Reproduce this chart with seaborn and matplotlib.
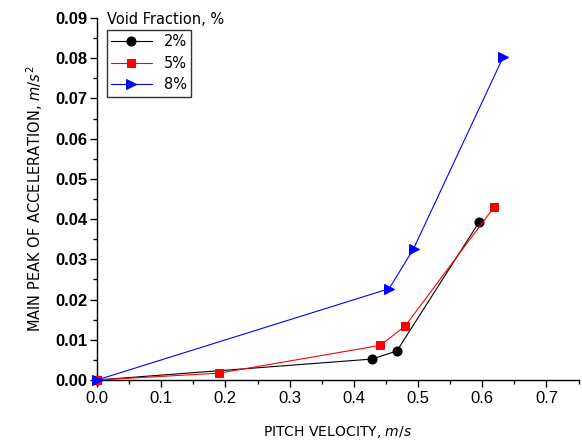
import matplotlib
matplotlib.use("Agg")
import matplotlib.pyplot as plt
import seaborn as sns
import pandas as pd
from matplotlib.ticker import MultipleLocator, FormatStrFormatter

sns.set_style("ticks")
plt.rcParams['font.family'] = ['DejaVu Sans']
plt.rcParams['mathtext.fontset'] = 'dejavusans'
plt.rcParams['text.color'] = 'black'
plt.rcParams['axes.labelcolor'] = 'black'
plt.rcParams['xtick.color'] = 'black'
plt.rcParams['ytick.color'] = 'black'

# Data
x_2 = [0.0, 0.428, 0.467, 0.595]
y_2 = [0.0, 0.0052, 0.0072, 0.0392]
x_5 = [0.0, 0.190, 0.441, 0.480, 0.618]
y_5 = [0.0, 0.0017, 0.0086, 0.0134, 0.0429]
x_8 = [0.0, 0.455, 0.493, 0.633]
y_8 = [0.0, 0.0227, 0.0326, 0.0804]
labels = ["2%", "5%", "8%"]
colors = ["black", "red", "blue"]
markers = ["o", "s", ">"]
msizes = [6.5, 5.5, 7.5]

fig = plt.figure(figsize=(5.82, 4.43), dpi=100)
ax = fig.add_axes([97/582, 1-380/443, 481.5/582, 362/443])

series = [(x_2, y_2), (x_5, y_5), (x_8, y_8)]
for (xs, ys), lab, c, m, ms in zip(series, labels, colors, markers, msizes):
    df = pd.DataFrame({"x": xs, "y": ys})
    sns.lineplot(data=df, x="x", y="y", ax=ax, color=c, marker=m, markersize=ms,
                 markeredgecolor=c, linewidth=0.8, sort=False, label=lab,
                 clip_on=False, zorder=3)

ax.set_xlim(0, 0.75)
ax.set_ylim(0, 0.09)
ax.xaxis.set_major_locator(MultipleLocator(0.1))
ax.xaxis.set_minor_locator(MultipleLocator(0.05))
ax.yaxis.set_major_locator(MultipleLocator(0.01))
ax.yaxis.set_minor_locator(MultipleLocator(0.005))
ax.xaxis.set_major_formatter(FormatStrFormatter('%.1f'))
ax.yaxis.set_major_formatter(FormatStrFormatter('%.2f'))

for s in ["top", "right"]:
    ax.spines[s].set_visible(False)
for s in ["left", "bottom"]:
    ax.spines[s].set_color("black")
    ax.spines[s].set_linewidth(1.0)

ax.tick_params(which="major", direction="out", length=5, width=1, color="black",
               labelcolor="black")
ax.tick_params(which="minor", direction="out", length=3, width=1, color="black")
ax.tick_params(axis="x", labelsize=12, pad=3)
ax.tick_params(axis="y", labelsize=12, pad=2)
for t in ax.get_xticklabels():
    t.set_family("Liberation Sans")
for t in ax.get_yticklabels():
    t.set_family("Liberation Sans")
    t.set_fontweight("bold")

ax.set_xlabel(r"PITCH VELOCITY, $m/s$", fontsize=10, labelpad=13)
ax.set_ylabel(r"MAIN PEAK OF ACCELERATION, $m/s^2$", fontsize=10.5, labelpad=7)

leg = ax.legend(loc="upper left", bbox_to_anchor=(0.02, 0.967), frameon=True,
                fancybox=False, edgecolor="black", fontsize=10.5,
                handlelength=2.8, borderaxespad=0, borderpad=0.3,
                labelspacing=0.45, handletextpad=0.8)
leg.get_frame().set_linewidth(1.0)
ax.text(0.02, 0.975, "Void Fraction, %", transform=ax.transAxes, fontsize=10.5,
        ha="left", va="bottom")

fig.savefig("out.png", dpi=100)
